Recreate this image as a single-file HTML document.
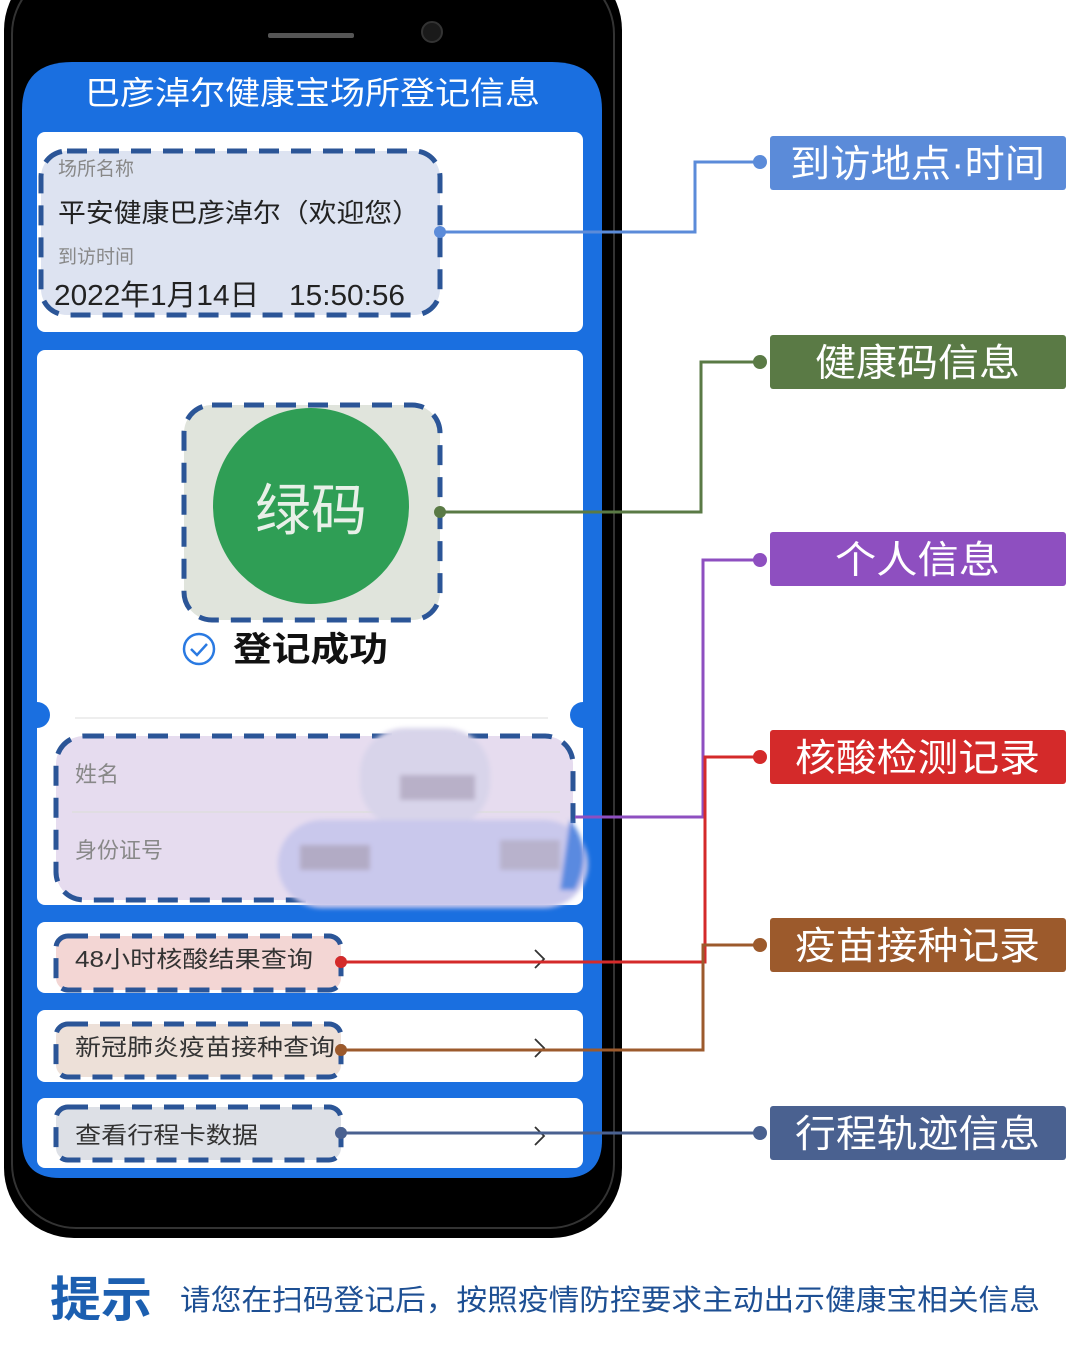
<!DOCTYPE html>
<html><head><meta charset="utf-8"><style>
html,body{margin:0;padding:0;background:#fff;}
body{width:1080px;height:1356px;overflow:hidden;font-family:"Liberation Sans","Noto Sans CJK SC",sans-serif;}
svg text{font-family:"Liberation Sans","Noto Sans CJK SC",sans-serif;}
</style></head><body>
<svg width="1080" height="1356" viewBox="0 0 1080 1356" xmlns="http://www.w3.org/2000/svg">
<defs><filter id="bl" x="-10%" y="-10%" width="120%" height="120%"><feGaussianBlur stdDeviation="2.5"/></filter></defs>
<rect x="4" y="-40" width="618" height="1278" rx="70" fill="#000"/>
<rect x="12" y="-30" width="602" height="1258" rx="64" fill="none" stroke="#333" stroke-width="2"/>
<rect x="268" y="33" width="86" height="5" rx="2" fill="#555"/>
<circle cx="432" cy="32" r="10" fill="#1a1a1a" stroke="#333" stroke-width="2"/>
<path d="M22 110 Q22 62 72 62 L552 62 Q602 62 602 110 L602 1140 Q602 1178 564 1178 L60 1178 Q22 1178 22 1140 Z" fill="#1a6fe0"/>
<text x="85" y="104" font-size="32" fill="#fff" textLength="455" lengthAdjust="spacingAndGlyphs">巴彦淖尔健康宝场所登记信息</text>
<rect x="37" y="132" width="546" height="200" rx="8" fill="#fff"/>
<rect x="37" y="350" width="546" height="555" rx="8" fill="#fff"/>
<circle cx="37" cy="715" r="13" fill="#1a6fe0"/>
<circle cx="583" cy="715" r="13" fill="#1a6fe0"/>
<line x1="75" y1="718" x2="548" y2="718" stroke="#eee" stroke-width="2"/>
<rect x="37" y="922" width="546" height="71" rx="8" fill="#fff"/>
<rect x="37" y="1010" width="546" height="72" rx="8" fill="#fff"/>
<rect x="37" y="1098" width="546" height="70" rx="8" fill="#fff"/>
<g stroke="#2b5597" stroke-width="5" stroke-dasharray="20 12">
<rect x="41" y="151" width="399" height="164" rx="26" fill="#dde3f1"/>
<rect x="184" y="405" width="256" height="215" rx="28" fill="#e0e4dc"/>
<rect x="56" y="736" width="517" height="164" rx="28" fill="#e6dcef"/>
<rect x="56" y="936" width="285" height="54" rx="12" fill="#f3d6d4"/>
<rect x="56" y="1024" width="285" height="53" rx="12" fill="#ede0d8"/>
<rect x="56" y="1107" width="285" height="53" rx="12" fill="#dde0e6"/>
</g>
<text x="58" y="175" font-size="19" fill="#888">场所名称</text>
<text x="58" y="222" font-size="26" fill="#222" textLength="362" lengthAdjust="spacingAndGlyphs">平安健康巴彦淖尔（欢迎您）</text>
<text x="58" y="263" font-size="19" fill="#888">到访时间</text>
<text x="54" y="305" font-size="29" fill="#222" textLength="351" lengthAdjust="spacingAndGlyphs">2022年1月14日　15:50:56</text>
<circle cx="311" cy="506" r="98" fill="#2f9e55"/>
<text x="311" y="530" font-size="56" fill="#e8f0e8" text-anchor="middle">绿码</text>
<circle cx="199" cy="649" r="15" fill="none" stroke="#2a7ae2" stroke-width="2.5"/>
<path d="M191 649 l6 6 l10 -11" fill="none" stroke="#2a7ae2" stroke-width="2.5"/>
<text x="233" y="661" font-size="34" font-weight="bold" fill="#111" textLength="155" lengthAdjust="spacingAndGlyphs">登记成功</text>
<line x1="72" y1="812" x2="560" y2="812" stroke="#ddd" stroke-width="1.5"/>
<text x="75" y="782" font-size="22" fill="#888">姓名</text>
<text x="75" y="858" font-size="22" fill="#888">身份证号</text>
<g filter="url(#bl)">
<rect x="360" y="728" width="130" height="100" rx="45" fill="#d8d4ea"/>
<rect x="400" y="775" width="75" height="25" fill="#b8b0c8"/>
<rect x="278" y="820" width="310" height="88" rx="44" fill="#c9c8ec"/>
<rect x="300" y="845" width="70" height="25" fill="#b2abc5"/>
<rect x="500" y="840" width="60" height="30" fill="#b8b2cc"/>
<path d="M570 820 Q595 850 575 890 L560 890 Z" fill="#5a8ae0"/>
</g>
<text x="75" y="967" font-size="23" fill="#333" textLength="238" lengthAdjust="spacingAndGlyphs">48小时核酸结果查询</text>
<text x="75" y="1055" font-size="23" fill="#333" textLength="260" lengthAdjust="spacingAndGlyphs">新冠肺炎疫苗接种查询</text>
<text x="75" y="1143" font-size="23" fill="#333" textLength="183" lengthAdjust="spacingAndGlyphs">查看行程卡数据</text>
<g fill="none" stroke="#333" stroke-width="1.8">
<path d="M535 950 l9 9 l-9 9"/><path d="M535 1039 l9 9 l-9 9"/><path d="M535 1127 l9 9 l-9 9"/>
</g>
<g fill="none" stroke-width="3">
<path d="M440 232 H695 V162 H760" stroke="#5b8bd9"/>
<path d="M440 512 H701 V362 H760" stroke="#5a7a45"/>
<path d="M575 817 H703 V560 H760" stroke="#8e4fc0"/>
<path d="M341 962 H705 V757 H760" stroke="#d42a2a"/>
<path d="M341 1050 H703 V945 H760" stroke="#9c5a2c"/>
<path d="M341 1133 H760" stroke="#4a6190"/>
</g>
<circle cx="440" cy="232" r="6" fill="#5b8bd9"/><circle cx="760" cy="162" r="7" fill="#5b8bd9"/>
<circle cx="440" cy="512" r="6" fill="#5a7a45"/><circle cx="760" cy="362" r="7" fill="#5a7a45"/>
<circle cx="760" cy="560" r="7" fill="#8e4fc0"/>
<circle cx="341" cy="962" r="6" fill="#d42a2a"/><circle cx="760" cy="757" r="7" fill="#d42a2a"/>
<circle cx="341" cy="1050" r="6" fill="#9c5a2c"/><circle cx="760" cy="945" r="7" fill="#9c5a2c"/>
<circle cx="341" cy="1133" r="6" fill="#4a6190"/><circle cx="760" cy="1133" r="7" fill="#4a6190"/>
<rect x="770" y="136" width="296" height="54" rx="3" fill="#5b8bd9"/>
<text x="790" y="177" font-size="38" fill="#fff" textLength="255" lengthAdjust="spacingAndGlyphs">到访地点·时间</text>
<rect x="770" y="335" width="296" height="54" rx="3" fill="#5a7a45"/>
<text x="815" y="376" font-size="38" fill="#fff" textLength="205" lengthAdjust="spacingAndGlyphs">健康码信息</text>
<rect x="770" y="532" width="296" height="54" rx="3" fill="#8e4fc0"/>
<text x="835" y="573" font-size="38" fill="#fff" textLength="165" lengthAdjust="spacingAndGlyphs">个人信息</text>
<rect x="770" y="730" width="296" height="54" rx="3" fill="#d42a2a"/>
<text x="795" y="771" font-size="38" fill="#fff" textLength="245" lengthAdjust="spacingAndGlyphs">核酸检测记录</text>
<rect x="770" y="918" width="296" height="54" rx="3" fill="#9c5a2c"/>
<text x="795" y="959" font-size="38" fill="#fff" textLength="245" lengthAdjust="spacingAndGlyphs">疫苗接种记录</text>
<rect x="770" y="1106" width="296" height="54" rx="3" fill="#4a6190"/>
<text x="795" y="1147" font-size="38" fill="#fff" textLength="245" lengthAdjust="spacingAndGlyphs">行程轨迹信息</text>
<text x="50" y="1316" font-size="48" font-weight="bold" fill="#1c5fb0" textLength="102" lengthAdjust="spacingAndGlyphs">提示</text>
<text x="180" y="1310" font-size="29" fill="#1d4f93" textLength="860" lengthAdjust="spacingAndGlyphs">请您在扫码登记后，按照疫情防控要求主动出示健康宝相关信息</text>
</svg>
</body></html>
